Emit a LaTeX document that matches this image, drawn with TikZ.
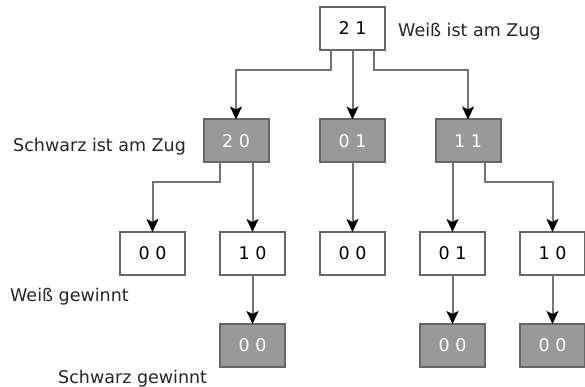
\documentclass[tikz,border=0pt]{standalone}
\usepackage{fontspec}
\setmainfont{DejaVu Sans}
\usetikzlibrary{arrows.meta}

\tikzset{
  zug/.style={draw=black!60, line width=2pt, fill=white, minimum width=65pt,
    minimum height=43pt, inner sep=0pt, outer sep=0pt,
    font=\fontsize{17.5}{20}\selectfont},
  schwarz/.style={zug, fill=black!40, text=white},
  pfeil/.style={draw=black!55, line width=2pt,
    -{Stealth[length=13pt, width=12pt, inset=3pt, color=black]}},
  txt/.style={anchor=base west, inner sep=0pt,
    font=\fontsize{17.5}{20}\selectfont, text=black!85}
}

\begin{document}
\begin{tikzpicture}[x=1pt, y=-1pt]
    \useasboundingbox (0,0) rectangle (585,387);

    % Wurzel: Weiss zieht
    \node[zug] (w21) at (352.5,28.5) {2 1};
    \node[txt] (zugw) at (398,37) {Weiß ist am Zug};

    % Ebene 2: Schwarz zieht
    \node[schwarz] (s20) at (236,141) {2 0};
    \node[schwarz] (s01) at (352.5,141) {0 1};
    \node[schwarz] (s11) at (468,141) {1 1};
    \node[txt] (zugs) at (13,152) {Schwarz ist am Zug};

    % Ebene 3
    \node[zug] (w00a) at (152.5,253.5) {0 0};
    \node[zug] (w10a) at (252.5,253.5) {1 0};
    \node[zug] (w00b) at (352.5,253.5) {0 0};
    \node[zug] (w01) at (452.5,253.5) {0 1};
    \node[zug] (w10b) at (552.5,253.5) {1 0};
    \node[txt] (geww) at (10,301) {Weiß gewinnt};

    % Ebene 4
    \node[schwarz] (s00a) at (252.5,345.5) {0 0};
    \node[schwarz] (s00b) at (452.5,345.5) {0 0};
    \node[schwarz] (s00c) at (552.5,345.5) {0 0};
    \node[txt] (gews) at (58,383) {Schwarz gewinnt};

    % Zuege
    \draw[pfeil] ([xshift=-21.5pt]w21.south) -- ++(0,20) -| (s20.north);
    \draw[pfeil] (w21) -- (s01);
    \draw[pfeil] ([xshift=21.5pt]w21.south) -- ++(0,20) -| (s11.north);

    \draw[pfeil] ([xshift=-16pt]s20.south) -- ++(0,20) -| (w00a.north);
    \draw[pfeil] (w10a |- s20.south) -- (w10a);
    \draw[pfeil] (s01) -- (w00b);
    \draw[pfeil] (w01 |- s11.south) -- (w01);
    \draw[pfeil] ([xshift=17pt]s11.south) -- ++(0,20) -| (w10b.north);

    \draw[pfeil] (w10a) -- (s00a);
    \draw[pfeil] (w01) -- (s00b);
    \draw[pfeil] (w10b) -- (s00c);
\end{tikzpicture}
\end{document}
